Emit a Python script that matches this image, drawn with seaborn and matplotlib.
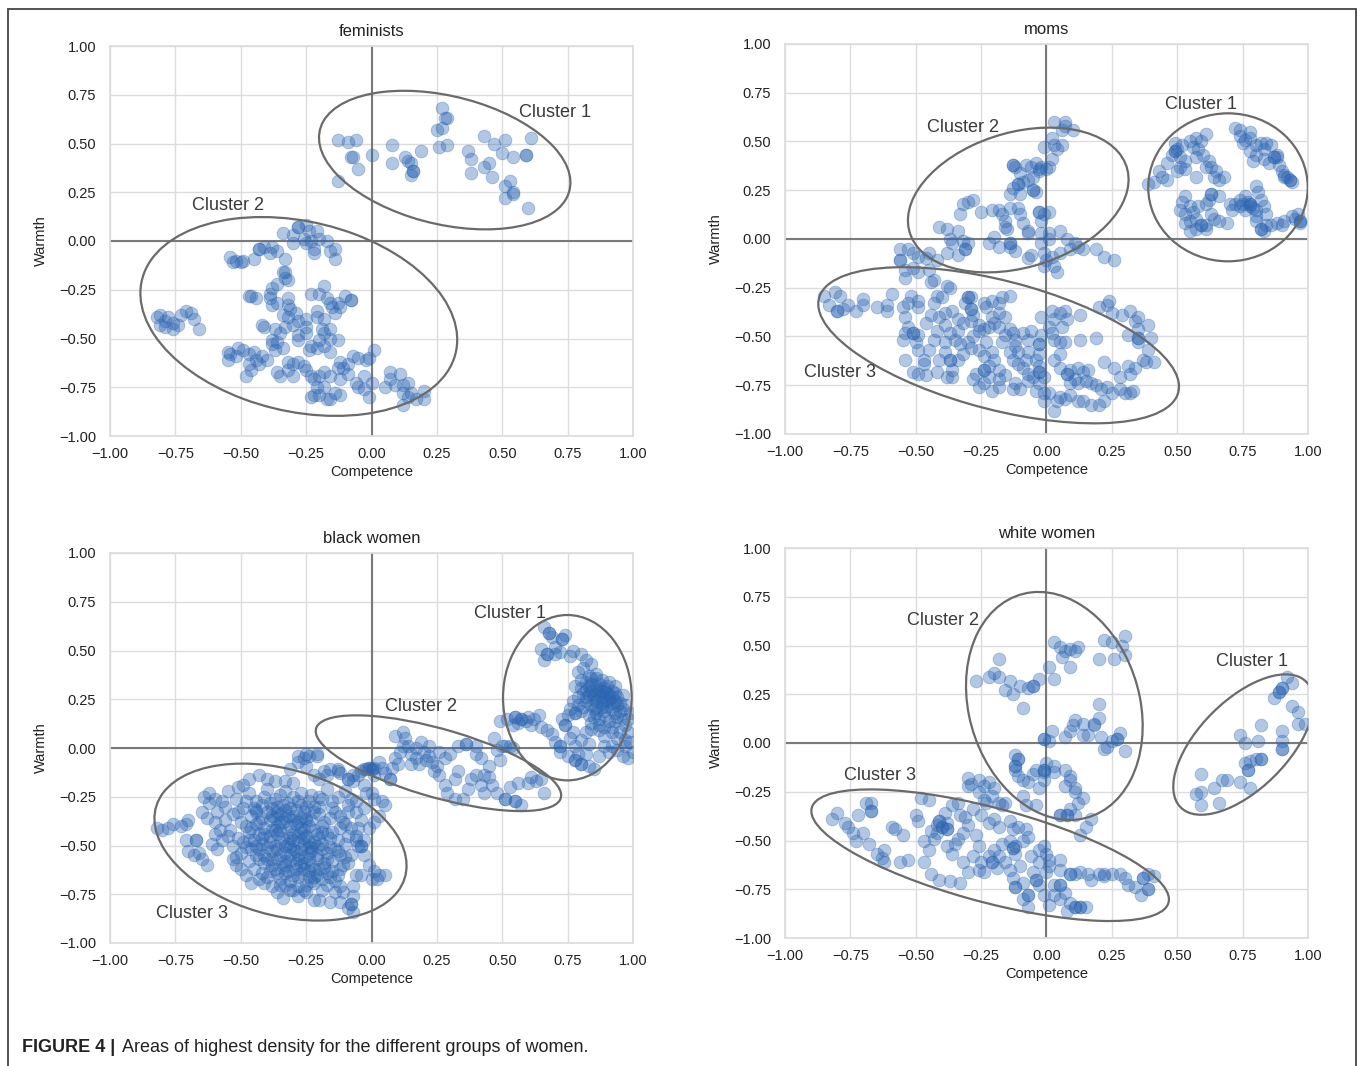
import matplotlib
matplotlib.use("Agg")
import matplotlib.pyplot as plt
import pandas as pd
import seaborn as sns
from matplotlib.patches import Ellipse, Rectangle

# ---------------------------------------------------------------------------
# Competence (x) / Warmth (y) coordinates, one list per cluster
# ---------------------------------------------------------------------------
fem_c1 = [(-0.13, 0.52), (-0.09, 0.51), (-0.06, 0.52), (-0.08, 0.43), (-0.07, 0.43), (-0.05, 0.37),
          (-0.13, 0.31), (0.00, 0.44), (0.08, 0.49), (0.08, 0.40), (0.13, 0.43), (0.14, 0.41),
          (0.15, 0.40), (0.16, 0.36), (0.15, 0.34), (0.16, 0.36), (0.19, 0.46), (0.26, 0.48),
          (0.29, 0.49), (0.25, 0.57), (0.27, 0.58), (0.29, 0.63), (0.28, 0.63), (0.27, 0.68),
          (0.37, 0.46), (0.38, 0.42), (0.38, 0.35), (0.43, 0.54), (0.47, 0.50), (0.51, 0.52),
          (0.50, 0.45), (0.54, 0.43), (0.59, 0.44), (0.59, 0.44), (0.61, 0.53), (0.43, 0.38),
          (0.45, 0.40), (0.46, 0.33), (0.53, 0.31), (0.51, 0.28), (0.54, 0.25), (0.54, 0.24),
          (0.51, 0.22), (0.60, 0.17)]
fem_c2 = [(-0.28, 0.07), (-0.28, 0.07), (-0.34, 0.04), (-0.30, 0.03), (-0.25, 0.08), (-0.24, 0.05),
          (-0.21, 0.05), (-0.26, 0.01), (-0.25, -0.01), (-0.23, 0.00), (-0.20, 0.01), (-0.17, 0.00),
          (-0.22, -0.04), (-0.22, -0.06), (-0.16, -0.05), (-0.14, -0.04), (-0.14, -0.09), (-0.30, -0.01),
          (-0.43, -0.04), (-0.43, -0.04), (-0.41, -0.03), (-0.38, -0.03), (-0.39, -0.06), (-0.36, -0.05),
          (-0.33, -0.09), (-0.45, -0.09), (-0.49, -0.10), (-0.50, -0.11), (-0.52, -0.10), (-0.54, -0.08),
          (-0.53, -0.11), (-0.34, -0.16), (-0.33, -0.16), (-0.33, -0.19), (-0.32, -0.20), (-0.36, -0.22),
          (-0.38, -0.24), (-0.39, -0.27), (-0.39, -0.29), (-0.46, -0.28), (-0.44, -0.29), (-0.47, -0.28),
          (-0.38, -0.33), (-0.36, -0.32), (-0.32, -0.29), (-0.32, -0.33), (-0.31, -0.35), (-0.34, -0.38),
          (-0.32, -0.39), (-0.29, -0.37), (-0.28, -0.41), (-0.30, -0.43), (-0.33, -0.44), (-0.42, -0.43),
          (-0.41, -0.44), (-0.37, -0.45), (-0.35, -0.47), (-0.28, -0.48), (-0.25, -0.47), (-0.25, -0.40),
          (-0.28, -0.51), (-0.36, -0.52), (-0.38, -0.53), (-0.34, -0.55), (-0.37, -0.56), (-0.38, -0.51),
          (-0.23, -0.27), (-0.20, -0.27), (-0.18, -0.23), (-0.17, -0.29), (-0.16, -0.32), (-0.15, -0.34),
          (-0.13, -0.32), (-0.12, -0.34), (-0.10, -0.28), (-0.08, -0.30), (-0.08, -0.30), (-0.14, -0.37),
          (-0.21, -0.36), (-0.21, -0.39), (-0.25, -0.44), (-0.18, -0.40), (-0.19, -0.45), (-0.16, -0.45),
          (-0.18, -0.47), (-0.16, -0.50), (-0.13, -0.51), (-0.20, -0.51), (-0.23, -0.54), (-0.24, -0.56),
          (-0.21, -0.55), (-0.18, -0.54), (-0.16, -0.57), (-0.55, -0.57), (-0.54, -0.58), (-0.52, -0.59),
          (-0.51, -0.55), (-0.49, -0.56), (-0.55, -0.61), (-0.47, -0.58), (-0.45, -0.57), (-0.44, -0.61),
          (-0.42, -0.59), (-0.40, -0.61), (-0.47, -0.63), (-0.46, -0.66), (-0.48, -0.69), (-0.43, -0.63),
          (-0.32, -0.62), (-0.30, -0.63), (-0.28, -0.62), (-0.26, -0.64), (-0.36, -0.67), (-0.35, -0.69),
          (-0.32, -0.66), (-0.30, -0.69), (-0.25, -0.66), (-0.23, -0.69), (-0.22, -0.71), (-0.20, -0.69),
          (-0.18, -0.67), (-0.16, -0.69), (-0.13, -0.65), (-0.12, -0.62), (-0.11, -0.65), (-0.09, -0.63),
          (-0.07, -0.59), (-0.05, -0.60), (-0.02, -0.61), (-0.01, -0.60), (0.01, -0.56), (-0.09, -0.68),
          (-0.12, -0.71), (-0.23, -0.80), (-0.22, -0.79), (-0.20, -0.79), (-0.17, -0.81), (-0.16, -0.81),
          (-0.14, -0.78), (-0.12, -0.79), (-0.21, -0.75), (-0.18, -0.75), (-0.06, -0.73), (-0.05, -0.75),
          (-0.03, -0.76), (-0.01, -0.80), (0.00, -0.73), (-0.03, -0.69), (0.05, -0.75), (0.07, -0.67),
          (0.07, -0.71), (0.11, -0.68), (0.09, -0.74), (0.12, -0.74), (0.14, -0.73), (0.12, -0.78),
          (0.14, -0.80), (0.15, -0.78), (0.12, -0.84), (0.17, -0.81), (0.20, -0.81), (0.20, -0.77),
          (-0.82, -0.39), (-0.81, -0.38), (-0.79, -0.41), (-0.78, -0.39), (-0.76, -0.42), (-0.76, -0.45),
          (-0.74, -0.43), (-0.79, -0.44), (-0.81, -0.43), (-0.71, -0.36), (-0.69, -0.37), (-0.68, -0.40),
          (-0.66, -0.45), (-0.73, -0.38)]

moms_c1 = [(0.39, 0.28), (0.41, 0.29), (0.44, 0.32), (0.46, 0.30), (0.43, 0.35), (0.46, 0.39),
           (0.48, 0.43), (0.49, 0.45), (0.49, 0.45), (0.50, 0.46), (0.49, 0.49), (0.52, 0.48),
           (0.51, 0.42), (0.53, 0.40), (0.55, 0.50), (0.56, 0.47), (0.57, 0.52), (0.59, 0.50),
           (0.61, 0.54), (0.58, 0.46), (0.57, 0.42), (0.51, 0.37), (0.50, 0.35), (0.53, 0.36),
           (0.60, 0.43), (0.62, 0.40), (0.63, 0.37), (0.65, 0.35), (0.64, 0.32), (0.61, 0.37),
           (0.57, 0.32), (0.66, 0.30), (0.68, 0.32), (0.72, 0.57), (0.74, 0.56), (0.78, 0.55),
           (0.74, 0.53), (0.76, 0.51), (0.78, 0.52), (0.75, 0.49), (0.80, 0.48), (0.82, 0.49),
           (0.84, 0.49), (0.86, 0.48), (0.83, 0.46), (0.80, 0.43), (0.78, 0.45), (0.87, 0.42),
           (0.87, 0.42), (0.88, 0.42), (0.88, 0.43), (0.83, 0.41), (0.79, 0.40), (0.85, 0.39),
           (0.89, 0.38), (0.90, 0.35), (0.91, 0.33), (0.92, 0.32), (0.93, 0.30), (0.93, 0.30),
           (0.94, 0.29), (0.91, 0.32), (0.53, 0.22), (0.52, 0.19), (0.51, 0.15), (0.53, 0.13),
           (0.55, 0.17), (0.56, 0.14), (0.53, 0.08), (0.55, 0.09), (0.57, 0.10), (0.59, 0.07),
           (0.59, 0.07), (0.61, 0.07), (0.61, 0.05), (0.57, 0.05), (0.55, 0.04), (0.58, 0.17),
           (0.61, 0.18), (0.62, 0.20), (0.63, 0.23), (0.63, 0.23), (0.63, 0.13), (0.64, 0.10),
           (0.66, 0.09), (0.69, 0.08), (0.66, 0.22), (0.70, 0.18), (0.72, 0.18), (0.74, 0.20),
           (0.76, 0.22), (0.78, 0.18), (0.78, 0.18), (0.78, 0.17), (0.76, 0.15), (0.80, 0.15),
           (0.80, 0.27), (0.81, 0.24), (0.82, 0.20), (0.83, 0.17), (0.84, 0.13), (0.80, 0.12),
           (0.80, 0.09), (0.82, 0.05), (0.82, 0.05), (0.83, 0.04), (0.84, 0.07), (0.86, 0.07),
           (0.88, 0.08), (0.90, 0.07), (0.91, 0.09), (0.94, 0.12), (0.96, 0.13), (0.97, 0.09),
           (0.97, 0.09), (0.97, 0.08), (0.95, 0.10), (0.74, 0.17), (0.71, 0.15), (0.77, 0.19),
           (0.79, 0.16), (0.75, 0.18)]
moms_c2 = [(0.03, 0.60), (0.07, 0.60), (0.06, 0.56), (0.10, 0.56), (0.07, 0.58), (0.02, 0.52),
           (0.03, 0.48), (0.06, 0.48), (0.04, 0.46), (-0.01, 0.47), (0.02, 0.41), (0.00, 0.36),
           (0.01, 0.37), (-0.02, 0.37), (-0.03, 0.36), (-0.04, 0.39), (-0.06, 0.37), (-0.08, 0.38),
           (-0.13, 0.38), (-0.13, 0.38), (-0.12, 0.37), (-0.10, 0.34), (-0.11, 0.28), (-0.11, 0.28),
           (-0.09, 0.29), (-0.07, 0.30), (-0.05, 0.32), (-0.03, 0.35), (-0.05, 0.25), (-0.05, 0.25),
           (-0.04, 0.24), (-0.13, 0.26), (-0.14, 0.23), (-0.10, 0.23), (-0.11, 0.16), (-0.10, 0.13),
           (-0.09, 0.08), (-0.07, 0.04), (-0.07, 0.03), (-0.03, 0.14), (-0.03, 0.14), (-0.01, 0.13),
           (0.01, 0.14), (-0.02, 0.09), (0.01, 0.03), (0.01, 0.00), (-0.02, -0.02), (-0.01, -0.07),
           (0.00, -0.11), (-0.01, -0.14), (0.03, -0.14), (0.04, -0.17), (0.02, -0.09), (0.05, -0.07),
           (0.08, 0.00), (0.11, -0.02), (0.12, -0.04), (0.09, -0.05), (0.14, -0.05), (0.19, -0.05),
           (0.22, -0.09), (0.26, -0.11), (0.05, 0.04), (-0.02, 0.03), (-0.18, 0.15), (-0.17, 0.13),
           (-0.14, 0.16), (-0.16, 0.09), (-0.16, 0.06), (-0.15, 0.05), (-0.14, -0.02), (-0.14, -0.02),
           (-0.14, -0.04), (-0.12, -0.06), (-0.07, -0.10), (-0.06, -0.08), (-0.20, 0.01), (-0.22, -0.02),
           (-0.18, -0.04), (-0.21, 0.15), (-0.25, 0.14), (-0.32, 0.18), (-0.30, 0.19), (-0.28, 0.20),
           (-0.33, 0.13), (-0.41, 0.06), (-0.38, 0.05), (-0.34, 0.04), (-0.37, 0.00), (-0.36, -0.02),
           (-0.32, -0.01), (-0.30, -0.02), (-0.31, -0.05), (-0.31, -0.05), (-0.34, -0.08), (-0.38, -0.07),
           (-0.42, -0.11), (-0.45, -0.07)]
moms_c3 = [(-0.56, -0.05), (-0.53, -0.05), (-0.51, -0.07), (-0.49, -0.09), (-0.56, -0.11), (-0.56, -0.11),
           (-0.54, -0.16), (-0.54, -0.20), (-0.51, -0.15), (-0.49, -0.17), (-0.45, -0.16), (-0.43, -0.21),
           (-0.44, -0.22), (-0.46, -0.10), (-0.38, -0.24), (-0.37, -0.25), (-0.42, -0.29), (-0.40, -0.30),
           (-0.43, -0.33), (-0.52, -0.29), (-0.53, -0.33), (-0.49, -0.32), (-0.49, -0.35),
           (-0.85, -0.29), (-0.81, -0.27), (-0.79, -0.29), (-0.83, -0.34), (-0.80, -0.37), (-0.80, -0.37),
           (-0.78, -0.36), (-0.76, -0.34), (-0.73, -0.37), (-0.70, -0.31), (-0.70, -0.34), (-0.65, -0.35),
           (-0.61, -0.34), (-0.61, -0.37), (-0.59, -0.28), (-0.55, -0.35),
           (-0.54, -0.40), (-0.53, -0.45), (-0.54, -0.48), (-0.55, -0.52), (-0.54, -0.62), (-0.51, -0.48),
           (-0.51, -0.48), (-0.49, -0.49), (-0.50, -0.53), (-0.49, -0.57), (-0.47, -0.62), (-0.51, -0.68),
           (-0.49, -0.69), (-0.46, -0.70), (-0.47, -0.64), (-0.45, -0.57), (-0.43, -0.52), (-0.42, -0.47),
           (-0.46, -0.43), (-0.44, -0.39), (-0.41, -0.40), (-0.39, -0.38), (-0.39, -0.44), (-0.37, -0.48),
           (-0.39, -0.53), (-0.39, -0.58), (-0.41, -0.62), (-0.42, -0.68), (-0.38, -0.71), (-0.36, -0.71),
           (-0.36, -0.67), (-0.37, -0.62), (-0.37, -0.62), (-0.34, -0.62), (-0.32, -0.59), (-0.33, -0.54),
           (-0.35, -0.52), (-0.34, -0.47), (-0.32, -0.43), (-0.34, -0.41), (-0.36, -0.37), (-0.31, -0.33),
           (-0.30, -0.30), (-0.30, -0.30), (-0.29, -0.30), (-0.29, -0.36), (-0.29, -0.36), (-0.28, -0.39),
           (-0.29, -0.42), (-0.26, -0.44), (-0.26, -0.47), (-0.28, -0.50), (-0.30, -0.53), (-0.29, -0.56),
           (-0.26, -0.57), (-0.24, -0.60), (-0.24, -0.67), (-0.24, -0.67), (-0.22, -0.65), (-0.27, -0.69),
           (-0.28, -0.72), (-0.26, -0.76), (-0.24, -0.74), (-0.22, -0.71), (-0.21, -0.78), (-0.18, -0.76),
           (-0.18, -0.72), (-0.16, -0.70), (-0.18, -0.67), (-0.20, -0.62), (-0.21, -0.58), (-0.23, -0.53),
           (-0.24, -0.46), (-0.22, -0.45), (-0.20, -0.43), (-0.21, -0.40), (-0.23, -0.35), (-0.24, -0.33),
           (-0.21, -0.32), (-0.18, -0.33), (-0.17, -0.30), (-0.14, -0.29), (-0.18, -0.38), (-0.16, -0.40),
           (-0.18, -0.45), (-0.14, -0.46), (-0.16, -0.49), (-0.13, -0.48), (-0.12, -0.52), (-0.17, -0.53),
           (-0.14, -0.58), (-0.12, -0.55), (-0.11, -0.58), (-0.13, -0.62), (-0.11, -0.64), (-0.09, -0.66),
           (-0.07, -0.69), (-0.05, -0.71), (-0.07, -0.73), (-0.12, -0.74), (-0.13, -0.77), (-0.10, -0.77),
           (-0.08, -0.62), (-0.07, -0.58), (-0.07, -0.52), (-0.09, -0.48), (-0.06, -0.47), (-0.03, -0.54),
           (-0.03, -0.54), (-0.03, -0.59), (-0.04, -0.62), (-0.03, -0.65), (-0.03, -0.68), (-0.03, -0.68),
           (-0.01, -0.71), (-0.03, -0.74), (-0.04, -0.78), (-0.01, -0.79), (-0.01, -0.83),
           (-0.02, -0.40), (0.02, -0.37), (0.03, -0.41), (0.01, -0.45), (0.05, -0.38), (0.07, -0.37),
           (0.08, -0.41), (0.06, -0.45), (0.02, -0.48), (-0.02, -0.49), (0.03, -0.52), (0.07, -0.53),
           (0.13, -0.39), (0.13, -0.52), (0.19, -0.51), (0.20, -0.35), (0.23, -0.34), (0.24, -0.32),
           (0.25, -0.38), (0.29, -0.39), (0.32, -0.37), (0.35, -0.40), (0.34, -0.42), (0.39, -0.44),
           (0.35, -0.46), (0.31, -0.49), (0.35, -0.51), (0.35, -0.51), (0.35, -0.53), (0.40, -0.51),
           (0.39, -0.57), (0.37, -0.62), (0.38, -0.63), (0.41, -0.63), (0.34, -0.66), (0.32, -0.69),
           (0.31, -0.65), (0.28, -0.71), (0.26, -0.66), (0.22, -0.63), (0.05, -0.53), (0.05, -0.59),
           (0.03, -0.62), (0.05, -0.66), (0.08, -0.69), (0.08, -0.69), (0.09, -0.67), (0.12, -0.66),
           (0.14, -0.68), (0.16, -0.67), (0.11, -0.72), (0.09, -0.74), (0.12, -0.74), (0.15, -0.73),
           (0.17, -0.74), (0.19, -0.75), (0.21, -0.77), (0.23, -0.76), (0.25, -0.79), (0.28, -0.77),
           (0.30, -0.79), (0.32, -0.79), (0.33, -0.78), (0.22, -0.83), (0.20, -0.85), (0.17, -0.85),
           (0.14, -0.83), (0.12, -0.83), (0.09, -0.80), (0.07, -0.82), (0.04, -0.83), (0.03, -0.88),
           (0.01, -0.79), (0.05, -0.81)]

black_c1 = [(0.66, 0.62), (0.68, 0.59), (0.68, 0.59), (0.69, 0.57), (0.73, 0.56), (0.73, 0.56),
            (0.74, 0.58), (0.65, 0.51), (0.67, 0.48), (0.67, 0.48), (0.66, 0.45), (0.70, 0.48),
            (0.72, 0.49), (0.76, 0.47), (0.80, 0.48), (0.82, 0.45), (0.84, 0.43), (0.79, 0.39),
            (0.80, 0.35), (0.83, 0.37), (0.86, 0.36), (0.88, 0.35), (0.91, 0.34), (0.93, 0.32),
            (0.78, 0.32), (0.82, 0.30), (0.84, 0.29), (0.87, 0.30), (0.89, 0.29), (0.93, 0.28),
            (0.96, 0.27), (0.79, 0.26), (0.82, 0.24), (0.86, 0.24), (0.89, 0.24), (0.92, 0.23),
            (0.94, 0.22), (0.80, 0.19), (0.78, 0.18), (0.78, 0.18), (0.75, 0.17), (0.73, 0.15),
            (0.74, 0.12), (0.74, 0.12), (0.77, 0.08), (0.83, 0.17), (0.86, 0.18), (0.89, 0.17),
            (0.93, 0.18), (0.96, 0.15), (0.97, 0.12), (0.98, 0.08), (0.99, 0.03), (1.00, -0.02),
            (0.97, 0.01), (0.94, 0.05), (0.92, 0.08), (0.89, 0.11), (0.87, 0.12), (0.84, 0.13),
            (0.82, 0.08), (0.80, 0.04), (0.78, 0.01), (0.72, 0.01), (0.72, 0.01), (0.72, -0.02),
            (0.75, -0.04), (0.78, -0.06), (0.78, -0.06), (0.80, -0.08), (0.80, -0.08), (0.83, -0.09),
            (0.85, -0.11), (0.87, -0.04), (0.89, 0.01), (0.92, 0.01), (0.91, -0.02), (0.96, -0.04),
            (0.98, -0.05), (0.49, 0.14), (0.52, 0.15), (0.55, 0.16), (0.55, 0.16), (0.57, 0.15),
            (0.57, 0.15), (0.59, 0.14), (0.62, 0.15), (0.64, 0.17), (0.61, 0.12), (0.65, 0.11),
            (0.67, 0.09), (0.69, 0.07), (0.70, 0.03), (0.54, 0.12), (0.51, 0.01), (0.54, 0.00),
            (0.82, 0.34), (0.86, 0.32), (0.89, 0.31), (0.84, 0.22), (0.88, 0.21), (0.92, 0.20),
            (0.77, 0.24), (0.76, 0.20), (0.85, 0.27), (0.88, 0.26), (0.91, 0.25), (0.93, 0.24),
            (0.87, 0.33), (0.90, 0.28), (0.85, 0.25), (0.90, 0.21), (0.95, 0.19), (0.81, 0.28),
            (0.83, 0.32), (0.86, 0.29), (0.88, 0.23), (0.91, 0.27), (0.94, 0.26), (0.85, 0.20),
            (0.82, 0.26), (0.79, 0.22), (0.87, 0.15), (0.91, 0.14), (0.94, 0.16), (0.84, 0.10),
            (0.89, 0.06), (0.95, 0.08), (0.86, 0.38), (0.81, 0.41), (0.92, 0.29), (0.97, 0.22),
            (0.99, 0.18), (0.76, 0.05), (0.94, -0.01), (0.82, -0.03), (0.70, 0.52), (0.77, 0.50),
            (0.84, 0.33), (0.87, 0.27), (0.90, 0.24), (0.86, 0.21), (0.92, 0.26), (0.83, 0.27),
            (0.88, 0.29), (0.95, 0.23), (0.89, 0.19), (0.85, 0.16), (0.81, 0.21), (0.96, 0.20),
            (0.90, 0.32), (0.84, 0.36), (0.93, 0.14), (0.87, 0.09), (0.80, 0.31), (0.92, 0.11),
            (0.98, 0.15), (0.83, 0.02), (0.79, -0.03), (0.97, 0.04), (0.60, 0.16), (0.56, 0.13)]
black_c2 = [(-0.28, -0.04), (-0.25, -0.03), (-0.21, -0.03), (-0.18, -0.12), (-0.16, -0.11), (-0.13, -0.11),
            (-0.12, -0.13), (-0.09, -0.16), (-0.07, -0.17), (-0.03, -0.11), (-0.01, -0.10), (-0.01, -0.10),
            (0.01, -0.10), (0.04, -0.10), (0.07, -0.16), (0.07, -0.16), (0.08, -0.10), (0.09, -0.05),
            (0.11, -0.02), (0.12, 0.01), (0.09, 0.06), (0.12, 0.08), (0.13, 0.05), (0.14, 0.01),
            (0.15, -0.03), (0.17, -0.05), (0.20, -0.02), (0.22, 0.01), (0.19, 0.03), (0.22, -0.04),
            (0.23, -0.07), (0.25, -0.09), (0.26, -0.14), (0.28, -0.19), (0.29, -0.23), (0.32, -0.26),
            (0.35, -0.26), (0.33, 0.01), (0.36, 0.02), (0.36, 0.02), (0.40, 0.01), (0.40, -0.03),
            (0.42, -0.05), (0.45, -0.09), (0.43, -0.14), (0.40, -0.14), (0.38, -0.16), (0.42, -0.19),
            (0.43, -0.23), (0.46, -0.19), (0.48, -0.23), (0.51, -0.26), (0.51, -0.26), (0.55, -0.27),
            (0.55, -0.27), (0.57, -0.29), (0.53, -0.20), (0.56, -0.18), (0.60, -0.18), (0.61, -0.15),
            (0.63, -0.17), (0.65, -0.16), (0.66, -0.23), (0.48, -0.01), (0.50, 0.01), (0.53, 0.01),
            (0.47, 0.05), (0.49, -0.06), (0.32, -0.16), (0.33, -0.12), (0.28, -0.05), (0.30, -0.03),
            (0.18, -0.08), (0.24, -0.12), (0.15, -0.08), (0.05, -0.13), (0.37, -0.21), (0.45, -0.15),
            (0.21, -0.06), (0.26, -0.02), (0.17, 0.00), (0.10, -0.08), (-0.05, -0.14), (0.03, -0.07)]
black_c3 = [(-0.82, -0.41), (-0.80, -0.42), (-0.78, -0.41), (-0.76, -0.39), (-0.73, -0.40), (-0.71, -0.39),
            (-0.70, -0.37), (-0.71, -0.47), (-0.67, -0.47), (-0.67, -0.47), (-0.70, -0.53), (-0.68, -0.55),
            (-0.66, -0.54), (-0.65, -0.57), (-0.63, -0.60), (-0.65, -0.33), (-0.63, -0.36), (-0.62, -0.23),
            (-0.64, -0.25), (-0.60, -0.26), (-0.62, -0.28), (-0.59, -0.33), (-0.60, -0.38), (-0.58, -0.42),
            (-0.57, -0.47), (-0.61, -0.49), (-0.59, -0.52), (-0.51, -0.20), (-0.49, -0.19), (-0.47, -0.16),
            (-0.43, -0.14), (-0.40, -0.16), (-0.37, -0.17), (-0.33, -0.17), (-0.30, -0.18), (-0.31, -0.11),
            (-0.28, -0.07), (-0.26, -0.05), (-0.24, -0.04), (-0.21, -0.04), (-0.25, -0.09), (-0.22, -0.14),
            (-0.20, -0.16), (-0.17, -0.14), (-0.13, -0.12), (-0.09, -0.16), (-0.07, -0.14), (-0.04, -0.12),
            (-0.02, -0.11), (0.00, -0.11), (0.00, -0.11), (0.01, -0.14), (-0.03, -0.19), (0.00, -0.23),
            (0.01, -0.26), (0.04, -0.27), (0.05, -0.29), (0.03, -0.35), (0.01, -0.38), (-0.01, -0.41),
            (-0.03, -0.47), (-0.04, -0.50), (-0.04, -0.50), (-0.06, -0.47), (-0.08, -0.55), (-0.03, -0.55),
            (-0.01, -0.60), (0.01, -0.63), (0.03, -0.65), (0.05, -0.65), (0.02, -0.67), (0.00, -0.67),
            (-0.04, -0.65), (-0.06, -0.65), (-0.07, -0.71), (-0.07, -0.76), (-0.08, -0.80), (-0.08, -0.80),
            (-0.07, -0.84), (-0.09, -0.82), (-0.12, -0.79), (-0.11, -0.74), (-0.14, -0.74), (-0.16, -0.79),
            (-0.20, -0.78), (-0.22, -0.78), (-0.25, -0.74), (-0.28, -0.76), (-0.31, -0.73), (-0.34, -0.77),
            (-0.36, -0.74), (-0.38, -0.71), (-0.41, -0.69), (-0.43, -0.67), (-0.46, -0.69), (-0.48, -0.65),
            (-0.50, -0.62), (-0.52, -0.60), (-0.53, -0.57),
            (-0.55, -0.22), (-0.47, -0.23), (-0.40, -0.21), (-0.33, -0.22), (-0.27, -0.23), (-0.17, -0.21),
            (-0.10, -0.22), (-0.02, -0.23), (-0.52, -0.26), (-0.44, -0.27), (-0.37, -0.26), (-0.30, -0.25),
            (-0.24, -0.27), (-0.19, -0.26), (-0.13, -0.25), (-0.06, -0.27), (-0.56, -0.30), (-0.49, -0.31),
            (-0.42, -0.29), (-0.36, -0.30), (-0.31, -0.31), (-0.27, -0.29), (-0.22, -0.30), (-0.15, -0.31),
            (-0.09, -0.29), (-0.03, -0.31), (-0.53, -0.34), (-0.46, -0.35), (-0.40, -0.33), (-0.35, -0.34),
            (-0.30, -0.35), (-0.26, -0.33), (-0.20, -0.34), (-0.12, -0.35), (-0.06, -0.33), (-0.50, -0.38),
            (-0.44, -0.39), (-0.39, -0.37), (-0.34, -0.38), (-0.29, -0.39), (-0.25, -0.37), (-0.18, -0.38),
            (-0.10, -0.39), (-0.04, -0.37), (-0.54, -0.42), (-0.47, -0.43), (-0.41, -0.41), (-0.37, -0.42),
            (-0.32, -0.43), (-0.27, -0.41), (-0.22, -0.42), (-0.15, -0.43), (-0.08, -0.41), (-0.51, -0.46),
            (-0.45, -0.47), (-0.39, -0.45), (-0.34, -0.46), (-0.30, -0.47), (-0.25, -0.45), (-0.20, -0.46),
            (-0.13, -0.47), (-0.06, -0.45), (-0.53, -0.50), (-0.48, -0.51), (-0.42, -0.49), (-0.37, -0.50),
            (-0.31, -0.51), (-0.26, -0.49), (-0.21, -0.50), (-0.16, -0.51), (-0.10, -0.49), (-0.50, -0.54),
            (-0.44, -0.55), (-0.38, -0.53), (-0.33, -0.54), (-0.28, -0.55), (-0.23, -0.53), (-0.17, -0.54),
            (-0.12, -0.55), (-0.47, -0.58), (-0.41, -0.59), (-0.36, -0.57), (-0.31, -0.58), (-0.26, -0.59),
            (-0.21, -0.57), (-0.15, -0.58), (-0.09, -0.59), (-0.45, -0.62), (-0.39, -0.63), (-0.34, -0.61),
            (-0.29, -0.62), (-0.24, -0.63), (-0.18, -0.61), (-0.12, -0.62), (-0.40, -0.66), (-0.35, -0.67),
            (-0.30, -0.65), (-0.24, -0.66), (-0.19, -0.67), (-0.13, -0.65), (-0.33, -0.70), (-0.28, -0.71),
            (-0.22, -0.69), (-0.17, -0.70), (-0.12, -0.71),
            (-0.36, -0.33), (-0.33, -0.36), (-0.28, -0.45), (-0.24, -0.48), (-0.30, -0.52), (-0.26, -0.56),
            (-0.42, -0.36), (-0.38, -0.42), (-0.20, -0.62), (-0.22, -0.66), (-0.44, -0.33), (-0.31, -0.40),
            (-0.27, -0.60), (-0.35, -0.48), (-0.19, -0.40), (-0.44, -0.32), (-0.25, -0.36), (-0.20, -0.25),
            (-0.40, -0.57), (-0.28, -0.66), (-0.22, -0.62), (-0.05, -0.50), (-0.32, -0.28), (-0.38, -0.31),
            (-0.23, -0.51), (-0.17, -0.44), (-0.43, -0.52), (-0.33, -0.64),
            (-0.48, -0.27), (-0.41, -0.25), (-0.35, -0.24), (-0.28, -0.27), (-0.23, -0.24), (-0.15, -0.27),
            (-0.51, -0.33), (-0.45, -0.31), (-0.38, -0.35), (-0.33, -0.32), (-0.27, -0.36), (-0.22, -0.33),
            (-0.16, -0.36), (-0.48, -0.40), (-0.43, -0.44), (-0.36, -0.40), (-0.30, -0.37), (-0.24, -0.40),
            (-0.19, -0.43), (-0.12, -0.41), (-0.49, -0.48), (-0.42, -0.46), (-0.36, -0.44), (-0.32, -0.49),
            (-0.27, -0.43), (-0.22, -0.48), (-0.16, -0.46), (-0.09, -0.45), (-0.46, -0.52), (-0.40, -0.51),
            (-0.35, -0.55), (-0.29, -0.53), (-0.24, -0.51), (-0.19, -0.52), (-0.13, -0.53), (-0.43, -0.57),
            (-0.38, -0.60), (-0.33, -0.58), (-0.28, -0.57), (-0.23, -0.60), (-0.17, -0.57), (-0.11, -0.60),
            (-0.42, -0.64), (-0.36, -0.64), (-0.31, -0.68), (-0.26, -0.62), (-0.21, -0.65), (-0.15, -0.63),
            (-0.30, -0.73), (-0.25, -0.70), (-0.19, -0.73), (-0.14, -0.68), (-0.56, -0.37), (-0.55, -0.45),
            (-0.57, -0.27), (-0.52, -0.56), (-0.09, -0.33), (-0.05, -0.41), (-0.08, -0.26), (-0.60, -0.44),
            (-0.39, -0.28), (-0.34, -0.29), (-0.29, -0.32), (-0.25, -0.30), (-0.43, -0.38), (-0.37, -0.36),
            (-0.32, -0.35), (-0.28, -0.38), (-0.23, -0.37), (-0.41, -0.44), (-0.35, -0.42), (-0.30, -0.44),
            (-0.26, -0.42), (-0.21, -0.44), (-0.44, -0.50), (-0.39, -0.48), (-0.33, -0.50), (-0.28, -0.48),
            (-0.24, -0.54), (-0.19, -0.49), (-0.41, -0.55), (-0.36, -0.52), (-0.31, -0.55), (-0.27, -0.52),
            (-0.21, -0.55), (-0.38, -0.57), (-0.33, -0.60), (-0.29, -0.59), (-0.24, -0.57), (-0.18, -0.59),
            (-0.37, -0.62), (-0.32, -0.63), (-0.27, -0.64), (-0.23, -0.68), (-0.17, -0.64), (-0.46, -0.41),
            (-0.47, -0.47), (-0.35, -0.38), (-0.31, -0.46), (-0.26, -0.46), (-0.20, -0.30), (-0.14, -0.33),
            (-0.11, -0.38), (-0.14, -0.52), (-0.10, -0.56), (-0.35, -0.70), (-0.26, -0.73), (-0.16, -0.66)]

white_c1 = [(0.92, 0.34), (0.94, 0.31), (0.90, 0.28), (0.90, 0.28), (0.89, 0.26), (0.89, 0.26),
            (0.87, 0.23), (0.94, 0.19), (0.96, 0.16), (0.99, 0.10), (0.96, 0.10), (0.82, 0.09),
            (0.74, 0.04), (0.90, 0.06), (0.76, 0.00), (0.81, 0.01), (0.90, 0.01), (0.90, -0.03),
            (0.90, -0.03), (0.82, -0.08), (0.82, -0.08), (0.80, -0.08), (0.78, -0.09), (0.76, -0.10),
            (0.77, -0.14), (0.77, -0.14), (0.74, -0.20), (0.78, -0.23), (0.59, -0.16), (0.64, -0.23),
            (0.67, -0.19), (0.69, -0.19), (0.59, -0.25), (0.57, -0.26), (0.59, -0.32), (0.66, -0.31)]
white_c2 = [(0.03, 0.52), (0.05, 0.49), (0.07, 0.47), (0.09, 0.48), (0.12, 0.49), (0.11, 0.47),
            (0.06, 0.44), (0.09, 0.39), (0.01, 0.39), (0.22, 0.53), (0.25, 0.52), (0.29, 0.50),
            (0.30, 0.55), (0.30, 0.45), (0.20, 0.43), (0.26, 0.43), (-0.18, 0.43), (-0.20, 0.36),
            (-0.22, 0.34), (-0.18, 0.34), (-0.27, 0.32), (-0.14, 0.32), (-0.16, 0.27), (-0.13, 0.25),
            (-0.10, 0.29), (-0.07, 0.28), (-0.05, 0.29), (-0.05, 0.29), (-0.03, 0.33), (0.03, 0.33),
            (-0.09, 0.18), (0.20, 0.20), (0.20, 0.13), (0.18, 0.10), (0.18, 0.09), (0.14, 0.10),
            (0.11, 0.12), (0.10, 0.09), (0.09, 0.06), (0.07, 0.03), (0.02, 0.06), (-0.01, 0.02),
            (-0.01, 0.02), (0.01, 0.01), (0.14, 0.04), (0.16, 0.04), (0.21, 0.03), (0.23, -0.02),
            (0.25, 0.01), (0.27, 0.02), (0.27, 0.02), (0.28, 0.05), (0.30, -0.04), (0.22, -0.03),
            (-0.12, -0.06), (-0.11, -0.08), (-0.11, -0.08), (-0.12, -0.12), (-0.12, -0.12), (-0.12, -0.14),
            (-0.11, -0.17), (-0.09, -0.19), (-0.07, -0.20), (-0.05, -0.16), (-0.04, -0.14), (-0.01, -0.14),
            (-0.01, -0.14), (-0.01, -0.15), (0.00, -0.10), (0.03, -0.12), (0.03, -0.15), (-0.01, -0.19),
            (-0.03, -0.23), (0.07, -0.14), (0.09, -0.17), (0.09, -0.19), (0.07, -0.22), (0.11, -0.23),
            (0.11, -0.25), (0.14, -0.28), (0.12, -0.31), (0.09, -0.34), (0.05, -0.37), (0.05, -0.37),
            (0.08, -0.37), (0.08, -0.37), (0.11, -0.37), (0.17, -0.39), (0.15, -0.43), (0.13, -0.47),
            (-0.09, -0.27), (-0.08, -0.32), (-0.04, -0.32)]
white_c3 = [(-0.80, -0.36), (-0.82, -0.39), (-0.77, -0.41), (-0.76, -0.43), (-0.74, -0.46), (-0.73, -0.50),
            (-0.70, -0.46), (-0.72, -0.37), (-0.69, -0.31), (-0.67, -0.31), (-0.67, -0.35), (-0.67, -0.35),
            (-0.68, -0.52), (-0.65, -0.57), (-0.62, -0.55), (-0.62, -0.61), (-0.63, -0.59), (-0.59, -0.43),
            (-0.58, -0.44), (-0.55, -0.47), (-0.56, -0.61), (-0.53, -0.60), (-0.50, -0.37), (-0.49, -0.40),
            (-0.48, -0.28), (-0.45, -0.29), (-0.42, -0.42), (-0.41, -0.40), (-0.41, -0.40), (-0.40, -0.43),
            (-0.40, -0.43), (-0.38, -0.41), (-0.38, -0.44), (-0.38, -0.44), (-0.42, -0.46), (-0.43, -0.49),
            (-0.45, -0.55), (-0.47, -0.61), (-0.44, -0.67), (-0.41, -0.70), (-0.37, -0.71), (-0.33, -0.72),
            (-0.30, -0.66), (-0.32, -0.61), (-0.36, -0.57), (-0.38, -0.53), (-0.34, -0.49), (-0.32, -0.46),
            (-0.30, -0.42), (-0.33, -0.37), (-0.36, -0.32), (-0.34, -0.31), (-0.30, -0.22), (-0.29, -0.21),
            (-0.26, -0.25), (-0.24, -0.22), (-0.22, -0.20), (-0.20, -0.23), (-0.21, -0.27), (-0.24, -0.29),
            (-0.18, -0.31), (-0.17, -0.32), (-0.16, -0.31), (-0.30, -0.18), (-0.26, -0.19), (-0.23, -0.31),
            (-0.28, -0.34), (-0.25, -0.37), (-0.22, -0.41), (-0.20, -0.39), (-0.18, -0.43), (-0.14, -0.40),
            (-0.13, -0.44), (-0.11, -0.43), (-0.08, -0.44), (-0.07, -0.48), (-0.09, -0.50), (-0.12, -0.53),
            (-0.14, -0.50), (-0.17, -0.52), (-0.20, -0.55), (-0.22, -0.58), (-0.25, -0.61), (-0.28, -0.58),
            (-0.26, -0.65), (-0.24, -0.66), (-0.21, -0.61), (-0.21, -0.61), (-0.19, -0.64), (-0.16, -0.61),
            (-0.14, -0.65), (-0.13, -0.69), (-0.12, -0.74), (-0.12, -0.74), (-0.09, -0.72), (-0.07, -0.78),
            (-0.07, -0.78), (-0.09, -0.80), (-0.07, -0.84), (-0.04, -0.70), (-0.04, -0.70), (-0.03, -0.73),
            (-0.01, -0.78), (0.01, -0.83), (0.00, -0.66), (0.01, -0.63), (0.03, -0.73), (0.05, -0.73),
            (0.05, -0.73), (0.07, -0.77), (-0.03, -0.55), (-0.01, -0.53), (0.00, -0.57), (0.01, -0.60),
            (-0.03, -0.61), (-0.06, -0.58), (-0.12, -0.57), (-0.13, -0.54), (-0.13, -0.54),
            (0.05, -0.60), (0.05, -0.65), (0.09, -0.67), (0.09, -0.67), (0.11, -0.67), (0.13, -0.66),
            (0.16, -0.67), (0.20, -0.67), (0.22, -0.67), (0.25, -0.67), (0.28, -0.67), (0.17, -0.70),
            (0.22, -0.68), (0.30, -0.69), (0.31, -0.73), (0.34, -0.74), (0.37, -0.69), (0.37, -0.69),
            (0.39, -0.67), (0.41, -0.68), (0.39, -0.75), (0.39, -0.75), (0.36, -0.78), (0.09, -0.82),
            (0.11, -0.84), (0.11, -0.84), (0.13, -0.84), (0.13, -0.84), (0.15, -0.84), (0.08, -0.86),
            (0.05, -0.80), (0.03, -0.78), (-0.44, -0.45), (-0.35, -0.52), (-0.27, -0.47), (-0.18, -0.58),
            (-0.10, -0.63), (-0.31, -0.38), (-0.39, -0.36), (-0.47, -0.50), (-0.26, -0.53), (-0.05, -0.66)]

# Cluster outlines: centre x, centre y, width, height, angle (data units)
fem_rings = [(0.28, 0.415, 1.01, 0.64, -23.3), (-0.278, -0.387, 1.27, 0.946, -26.7)]
moms_rings = [(0.694, 0.265, 0.61, 0.759, 0.0), (-0.108, 0.20, 0.909, 0.661, 32.8),
              (-0.183, -0.545, 1.46, 0.642, -21.4)]
black_rings = [(0.749, 0.258, 0.492, 0.848, 0.0), (0.256, -0.078, 1.003, 0.341, -22.0),
               (-0.348, -0.4825, 1.03, 0.719, -29.4)]
white_rings = [(0.753, -0.008, 0.814, 0.379, 58.2), (0.03, 0.19, 1.178, 0.66, -81.5),
               (-0.2155, -0.5755, 1.45, 0.472, -20.6)]

# Cluster names and where they are written
fem_names = [("Cluster 1", 0.70, 0.66), ("Cluster 2", -0.55, 0.18)]
moms_names = [("Cluster 1", 0.59, 0.69), ("Cluster 2", -0.32, 0.57), ("Cluster 3", -0.79, -0.685)]
black_names = [("Cluster 1", 0.53, 0.69), ("Cluster 2", 0.19, 0.214), ("Cluster 3", -0.685, -0.848)]
white_names = [("Cluster 1", 0.784, 0.42), ("Cluster 2", -0.395, 0.626), ("Cluster 3", -0.635, -0.166)]

ticks = [-1.0, -0.75, -0.5, -0.25, 0.0, 0.25, 0.5, 0.75, 1.0]

panels = [
    ("feminists", [fem_c1, fem_c2], fem_rings, fem_names, [110, 46]),
    ("moms", [moms_c1, moms_c2, moms_c3], moms_rings, moms_names, [785, 44]),
    ("black women", [black_c1, black_c2, black_c3], black_rings, black_names, [110, 553]),
    ("white women", [white_c1, white_c2, white_c3], white_rings, white_names, [785, 548]),
]

sns.set_theme(style="whitegrid")
plt.rcParams['font.family'] = ['Liberation Sans', 'DejaVu Sans']
plt.rcParams['axes.edgecolor'] = '#dddddd'
plt.rcParams['grid.color'] = '#dcdcdc'

W, H = 1358, 1066
fig = plt.figure(figsize=(W / 100, H / 100), dpi=100)

POINT = '#2b65b2'
AX_W, AX_H = 523, 390

for title, clusters, rings, names, (left_px, top_px) in panels:
    ax = fig.add_axes([left_px / W, 1 - (top_px + AX_H) / H, AX_W / W, AX_H / H])
    pts = [p for c in clusters for p in c]
    df = pd.DataFrame(pts, columns=["Competence", "Warmth"])
    ax.axhline(0, color='#7a7a7a', lw=1.5, zorder=1)
    ax.axvline(0, color='#7a7a7a', lw=1.5, zorder=1)
    sns.scatterplot(data=df, x="Competence", y="Warmth", ax=ax, color=POINT, alpha=0.36,
                    s=84, edgecolor=POINT, linewidth=0.6, zorder=3)
    for cx, cy, w, h, ang in rings:
        ax.add_patch(Ellipse((cx, cy), w, h, angle=ang, fill=False, edgecolor='#6a6a6a',
                             lw=1.6, zorder=4))
    for txt, tx, ty in names:
        ax.text(tx, ty, txt, ha='center', va='center', fontsize=13, color='#3a3a3a', zorder=5)
    ax.set_xlim(-1, 1)
    ax.set_ylim(-1, 1)
    ax.set_xticks(ticks)
    ax.set_yticks(ticks)
    ax.tick_params(axis='x', labelsize=10.5, colors='#222222', pad=2)
    ax.tick_params(axis='y', labelsize=10.5, colors='#222222', pad=4)
    ax.grid(True, color='#dcdcdc', lw=1.0)
    ax.set_axisbelow(True)
    ax.set_title(title, fontsize=12, color='#222222', pad=7)
    ax.set_xlabel("Competence", fontsize=10.5, color='#222222', labelpad=3)
    ax.set_ylabel("Warmth", fontsize=10.5, color='#222222', labelpad=8)
    for sp in ax.spines.values():
        sp.set_color('#dddddd')

# outer frame and caption
fig.add_artist(Rectangle((8 / W, -0.02), 1348 / W, 1.02 - 9 / H, transform=fig.transFigure,
                         fill=False, edgecolor='#444444', lw=1.3))
fig.text(22 / W, 1 - 1047 / H, "FIGURE 4 |", fontsize=13, fontweight='bold', color='#222222',
         va='center', ha='left')
fig.text(122 / W, 1 - 1047 / H, "Areas of highest density for the different groups of women.",
         fontsize=13, color='#222222', va='center', ha='left')

fig.savefig("out.png", dpi=100)
